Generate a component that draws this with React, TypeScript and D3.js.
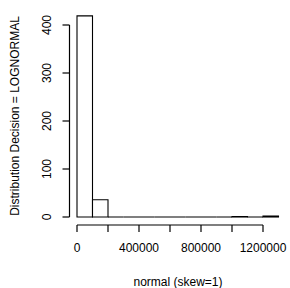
import React from "react";
import * as d3 from "d3";

const binStarts = [0, 100000, 200000, 300000, 400000, 500000, 600000, 700000, 800000, 900000, 1000000, 1100000, 1200000];
const binWidth = 100000;
const counts = [419, 36, 0, 0, 0, 0, 0, 0, 0, 0, 1, 0, 2];
const xTicks = [0, 200000, 400000, 600000, 800000, 1000000, 1200000];
const xTickLabels = ["0", "", "400000", "", "800000", "", "1200000"];
const yTicks = [0, 100, 200, 300, 400];
const xTitle = "normal (skew=1)";
const yTitle = "Distribution Decision = LOGNORMAL";

export default function App() {
  const W = 290, H = 288;
  const x = d3.scaleLinear().domain([0, 1200000]).range([77, 263]);
  const y = d3.scaleLinear().domain([0, 400]).range([217, 25]);
  const font = "'Liberation Sans', Arial, Helvetica, sans-serif";
  const axisY = 225;
  const axisX = 69.5;
  return (
    <svg width={W} height={H} style={{ position: "absolute", left: 0, top: 0, background: "#fff" }}>
      <rect x={0} y={0} width={W} height={H} fill="#fff" />
      {binStarts.map((b, i) => {
        const x0 = x(b), x1 = x(b + binWidth), y0 = y(0), yt = y(counts[i]);
        const dd = `M${x0},${y0}V${yt}H${x1}V${y0}Z`;
        return <path key={i} d={dd} fill="white" stroke="black" strokeWidth={1.1} strokeLinejoin="miter" />;
      })}
      {/* x axis */}
      <line x1={x(0)} x2={x(1200000)} y1={axisY} y2={axisY} stroke="black" strokeWidth={1.2} />
      {xTicks.map((t, i) => (
        <g key={i}>
          <line x1={x(t)} x2={x(t)} y1={axisY} y2={axisY + 7} stroke="black" strokeWidth={1.2} />
          {xTickLabels[i] && (
            <text x={x(t)} y={axisY + 27} textAnchor="middle" fontFamily={font} fontSize={12}>{xTickLabels[i]}</text>
          )}
        </g>
      ))}
      {/* y axis */}
      <line x1={axisX} x2={axisX} y1={y(0)} y2={y(400)} stroke="black" strokeWidth={1.2} />
      {yTicks.map((t, i) => (
        <g key={i}>
          <line x1={axisX} x2={axisX - 7} y1={y(t)} y2={y(t)} stroke="black" strokeWidth={1.2} />
          <text transform={`translate(${axisX - 19},${y(t)}) rotate(-90)`} textAnchor="middle" fontFamily={font} fontSize={12}>{t}</text>
        </g>
      ))}
      <text x={178} y={286} textAnchor="middle" fontFamily={font} fontSize={12}>{xTitle}</text>
      <text transform={`translate(19,116) rotate(-90)`} textAnchor="middle" fontFamily={font} fontSize={12}>{yTitle}</text>
    </svg>
  );
}
